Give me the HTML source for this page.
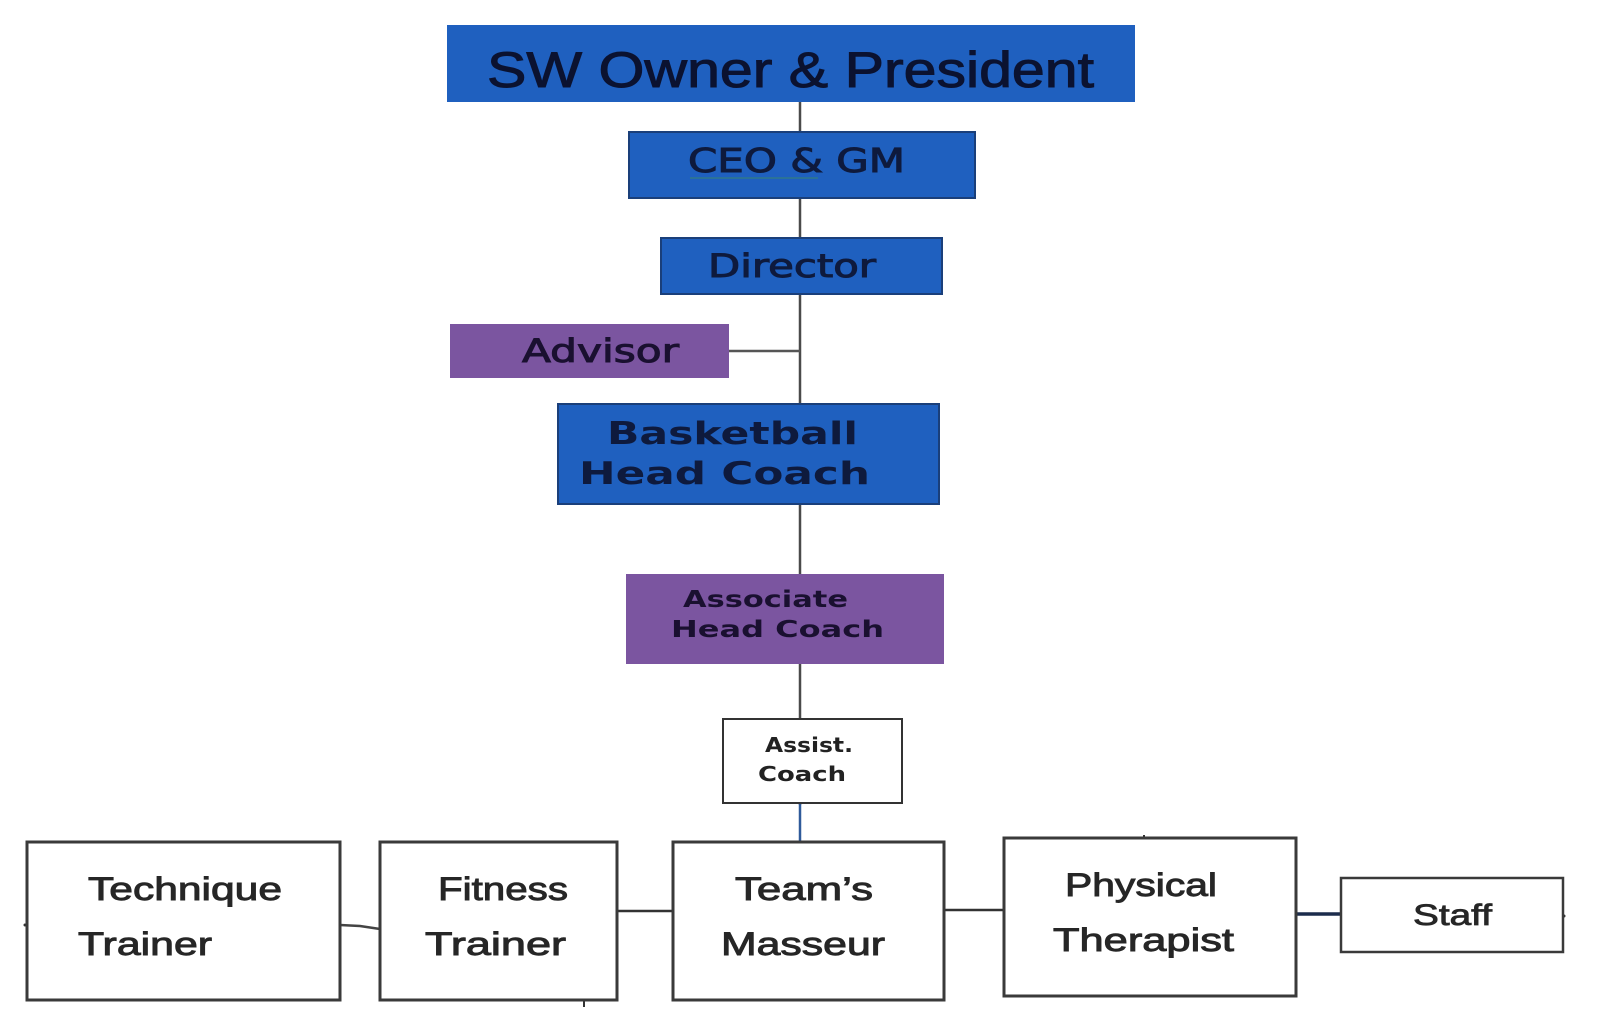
<!DOCTYPE html>
<html>
<head>
<meta charset="utf-8">
<style>
  html,body{margin:0;padding:0;background:#fff;}
  svg{display:block;}
  .cal{font-family:"Liberation Sans",sans-serif;}
  .geo{font-family:"DejaVu Sans","Liberation Sans",sans-serif;}
</style>
</head>
<body>
<svg width="1606" height="1022" viewBox="0 0 1606 1022" xmlns="http://www.w3.org/2000/svg">
  <rect x="0" y="0" width="1606" height="1022" fill="#ffffff"/>

  <!-- connectors -->
  <line x1="800" y1="102" x2="800" y2="805" stroke="#4a4a4a" stroke-width="2.5"/>
  <line x1="800" y1="803" x2="800" y2="842" stroke="#2f5a9a" stroke-width="2.5"/>
  <line x1="729" y1="351" x2="800" y2="351" stroke="#555" stroke-width="2.5"/>
  <polyline points="340,925 360,926 380,929" fill="none" stroke="#444" stroke-width="2.5"/>
  <line x1="617" y1="911" x2="673" y2="911" stroke="#333" stroke-width="2.5"/>
  <line x1="944" y1="910" x2="1004" y2="910" stroke="#333" stroke-width="2.5"/>
  <line x1="1296" y1="914" x2="1341" y2="914" stroke="#1c2c4c" stroke-width="3.5"/>
  <line x1="584" y1="1000" x2="584" y2="1007" stroke="#333" stroke-width="2"/>
  <line x1="1144" y1="835" x2="1144" y2="838" stroke="#333" stroke-width="2"/>
  <circle cx="25" cy="925" r="1.5" fill="#333"/>
  <circle cx="1564" cy="916" r="1.5" fill="#333"/>

  <!-- SW Owner & President -->
  <rect x="447" y="25" width="688" height="77" fill="#1f60bf"/>
  <text class="cal" x="487" y="87" font-size="50" fill="#0b1230" stroke="#0b1230" stroke-width="1" textLength="607" lengthAdjust="spacingAndGlyphs">SW Owner &amp; President</text>

  <!-- CEO & GM -->
  <rect x="629" y="132" width="346" height="66" fill="#1f60bf" stroke="#1a3f7a" stroke-width="2"/>
  <text class="geo" x="688" y="172" font-size="33" fill="#0e1a3d" stroke="#0e1a3d" stroke-width="1" textLength="217" lengthAdjust="spacingAndGlyphs">CEO &amp; GM</text>
  <line x1="690" y1="178" x2="818" y2="178" stroke="#3a8a6a" stroke-width="1.5" opacity="0.6"/>

  <!-- Director -->
  <rect x="661" y="238" width="281" height="56" fill="#1f60bf" stroke="#1a3f7a" stroke-width="2"/>
  <text class="geo" x="708" y="277" font-size="32" fill="#0e1a3d" stroke="#0e1a3d" stroke-width="1" textLength="168" lengthAdjust="spacingAndGlyphs">Director</text>

  <!-- Advisor -->
  <rect x="450" y="324" width="279" height="54" fill="#7b55a0"/>
  <text class="geo" x="522" y="362" font-size="32" fill="#1a1030" stroke="#1a1030" stroke-width="1" textLength="157" lengthAdjust="spacingAndGlyphs">Advisor</text>

  <!-- Basketball Head Coach -->
  <rect x="558" y="404" width="381" height="100" fill="#1f60bf" stroke="#1a3f7a" stroke-width="2"/>
  <text class="geo" x="607" y="444" font-size="31" font-weight="bold" fill="#0e1a3d" textLength="251" lengthAdjust="spacingAndGlyphs">Basketball</text>
  <text class="geo" x="579" y="484" font-size="31" font-weight="bold" fill="#0e1a3d" textLength="291" lengthAdjust="spacingAndGlyphs">Head Coach</text>

  <!-- Associate Head Coach -->
  <rect x="626" y="574" width="318" height="90" fill="#7b55a0"/>
  <text class="geo" x="683" y="607" font-size="23" font-weight="bold" fill="#1a1030" textLength="165" lengthAdjust="spacingAndGlyphs">Associate</text>
  <text class="geo" x="671" y="637" font-size="23" font-weight="bold" fill="#1a1030" textLength="213" lengthAdjust="spacingAndGlyphs">Head Coach</text>

  <!-- Assist. Coach -->
  <rect x="723" y="719" width="179" height="84" fill="#ffffff" stroke="#333" stroke-width="2"/>
  <text class="geo" x="765" y="752" font-size="20" font-weight="bold" fill="#222" textLength="88" lengthAdjust="spacingAndGlyphs">Assist.</text>
  <text class="geo" x="758" y="781" font-size="20" font-weight="bold" fill="#222" textLength="88" lengthAdjust="spacingAndGlyphs">Coach</text>

  <!-- Bottom row -->
  <g fill="#262626" stroke="#262626" stroke-width="0.9">
  <text class="cal" x="88" y="900" font-size="32" textLength="194" lengthAdjust="spacingAndGlyphs">Technique</text>
  <text class="cal" x="78" y="955" font-size="32" textLength="134" lengthAdjust="spacingAndGlyphs">Trainer</text>
  </g>
  <rect x="27" y="842" width="313" height="158" fill="none" stroke="#3a3a3a" stroke-width="3"/>

  <rect x="380" y="842" width="237" height="158" fill="#ffffff" stroke="#3a3a3a" stroke-width="3"/>
  <g fill="#262626" stroke="#262626" stroke-width="0.9">
  <text class="cal" x="438" y="900" font-size="32" textLength="130" lengthAdjust="spacingAndGlyphs">Fitness</text>
  <text class="cal" x="425" y="955" font-size="32" textLength="141" lengthAdjust="spacingAndGlyphs">Trainer</text>
  </g>

  <rect x="673" y="842" width="271" height="158" fill="#ffffff" stroke="#3a3a3a" stroke-width="3"/>
  <g fill="#262626" stroke="#262626" stroke-width="0.9">
  <text class="cal" x="735" y="900" font-size="32" textLength="138" lengthAdjust="spacingAndGlyphs">Team’s</text>
  <text class="cal" x="721" y="955" font-size="32" textLength="164" lengthAdjust="spacingAndGlyphs">Masseur</text>
  </g>

  <rect x="1004" y="838" width="292" height="158" fill="#ffffff" stroke="#3a3a3a" stroke-width="3"/>
  <g fill="#262626" stroke="#262626" stroke-width="0.9">
  <text class="cal" x="1065" y="896" font-size="32" textLength="152" lengthAdjust="spacingAndGlyphs">Physical</text>
  <text class="cal" x="1053" y="951" font-size="32" textLength="181" lengthAdjust="spacingAndGlyphs">Therapist</text>
  </g>

  <rect x="1341" y="878" width="222" height="74" fill="#ffffff" stroke="#3a3a3a" stroke-width="2.5"/>
  <text class="cal" x="1413" y="925" font-size="30" fill="#262626" stroke="#262626" stroke-width="0.8" textLength="79" lengthAdjust="spacingAndGlyphs">Staff</text>
</svg>
</body>
</html>
